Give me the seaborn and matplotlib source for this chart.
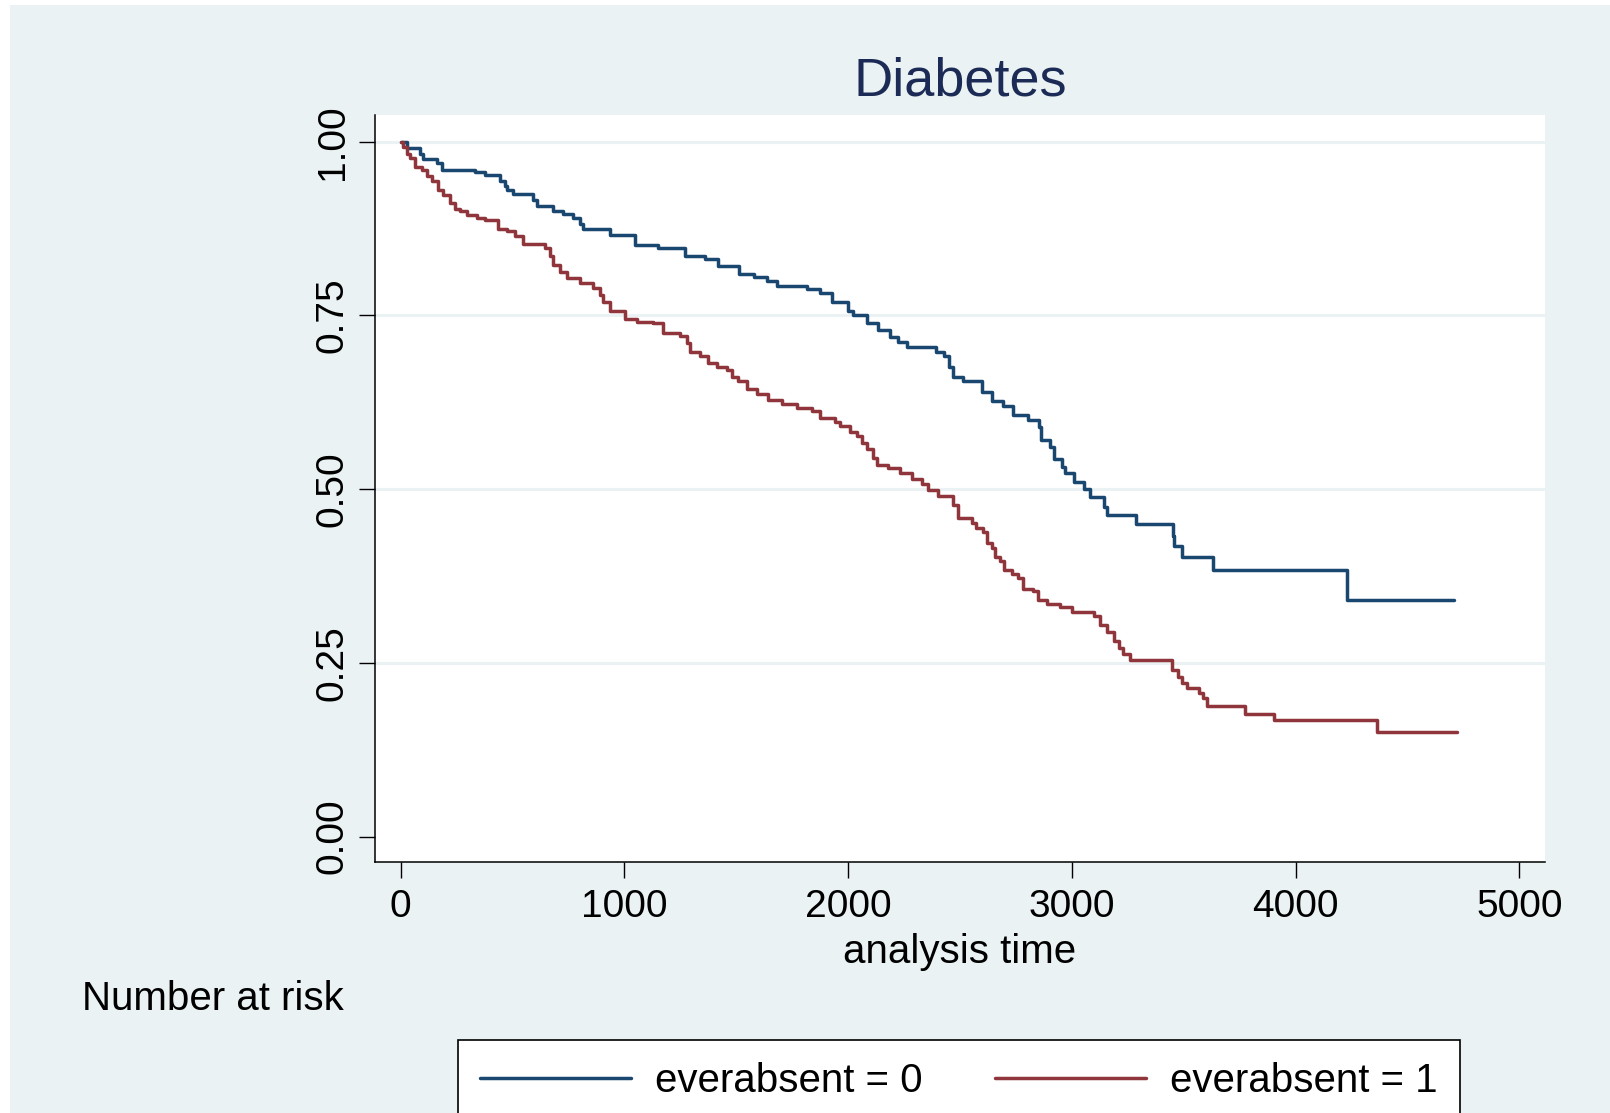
import matplotlib
matplotlib.use('Agg')
import matplotlib.pyplot as plt
import seaborn as sns
import pandas as pd
from matplotlib.patches import Rectangle

sns.set_style('white')
plt.rcParams['font.family'] = ['Liberation Sans', 'DejaVu Sans']
plt.rcParams['text.color'] = 'black'
plt.rcParams['axes.labelcolor'] = 'black'

# Kaplan-Meier survival estimates (time, survival after the step)
t0 = [0, 28, 87, 101, 162, 184, 333, 378, 445, 465, 474, 504, 593, 608, 683, 728, 772, 800, 817, 936,
      1048, 1152, 1271, 1360, 1420, 1513, 1580, 1636, 1681, 1815, 1874, 1926, 2001, 2023, 2083, 2135,
      2187, 2224, 2261, 2392, 2430, 2450, 2469, 2515, 2597, 2645, 2694, 2739, 2806, 2851, 2860, 2903,
      2920, 2955, 2970, 3010, 3055, 3082, 3142, 3157, 3287, 3453, 3456, 3490, 3632, 4231, 4707]
s0 = [1.0, 0.991, 0.983, 0.975, 0.970, 0.960, 0.956, 0.952, 0.944, 0.937, 0.931, 0.925, 0.916, 0.908,
      0.901, 0.896, 0.890, 0.882, 0.875, 0.866, 0.852, 0.847, 0.836, 0.831, 0.821, 0.810, 0.805, 0.799,
      0.793, 0.788, 0.782, 0.770, 0.757, 0.751, 0.739, 0.729, 0.719, 0.712, 0.705, 0.698, 0.691, 0.676,
      0.662, 0.655, 0.640, 0.627, 0.619, 0.607, 0.599, 0.590, 0.571, 0.561, 0.543, 0.532, 0.523, 0.511,
      0.500, 0.488, 0.475, 0.463, 0.450, 0.433, 0.418, 0.402, 0.383, 0.341, 0.341]

t1 = [0, 13, 28, 42, 65, 95, 117, 139, 169, 191, 221, 244, 266, 296, 340, 378, 437, 474, 512, 549,
      646, 668, 683, 713, 742, 802, 862, 891, 906, 936, 1003, 1055, 1130, 1174, 1249, 1279, 1294, 1338,
      1376, 1413, 1458, 1480, 1510, 1547, 1592, 1644, 1703, 1770, 1837, 1874, 1941, 1964, 2008, 2038,
      2061, 2083, 2113, 2128, 2180, 2232, 2284, 2329, 2359, 2403, 2470, 2492, 2552, 2570, 2604, 2619,
      2641, 2656, 2679, 2697, 2731, 2761, 2783, 2828, 2850, 2887, 2947, 3000, 3099, 3126, 3156, 3186,
      3210, 3230, 3260, 3446, 3476, 3491, 3513, 3566, 3588, 3603, 3774, 3905, 4365, 4723]
s1 = [1.0, 0.993, 0.983, 0.976, 0.964, 0.959, 0.951, 0.943, 0.931, 0.923, 0.912, 0.904, 0.901, 0.895,
      0.891, 0.888, 0.875, 0.871, 0.864, 0.853, 0.847, 0.835, 0.823, 0.813, 0.804, 0.797, 0.789, 0.780,
      0.770, 0.757, 0.745, 0.741, 0.739, 0.725, 0.720, 0.710, 0.698, 0.691, 0.681, 0.676, 0.672, 0.661,
      0.655, 0.644, 0.637, 0.629, 0.623, 0.617, 0.612, 0.603, 0.597, 0.591, 0.583, 0.576, 0.566, 0.558,
      0.545, 0.535, 0.530, 0.523, 0.514, 0.507, 0.499, 0.490, 0.477, 0.458, 0.452, 0.444, 0.439, 0.422,
      0.415, 0.403, 0.396, 0.384, 0.378, 0.372, 0.356, 0.353, 0.341, 0.335, 0.330, 0.323, 0.317, 0.305,
      0.294, 0.281, 0.272, 0.263, 0.254, 0.239, 0.230, 0.221, 0.214, 0.207, 0.199, 0.188, 0.177, 0.167,
      0.151, 0.151]

groups = ['everabsent = 0', 'everabsent = 1']
colors = ['#1A476F', '#90353B']
xticks = [0, 1000, 2000, 3000, 4000, 5000]
yticks = [0.0, 0.25, 0.5, 0.75, 1.0]
ytick_labels = ['0.00', '0.25', '0.50', '0.75', '1.00']
bg = '#EAF2F3'   # stata s2color background

df = pd.concat([pd.DataFrame({'time': t0, 'surv': s0, 'group': groups[0]}),
                pd.DataFrame({'time': t1, 'surv': s1, 'group': groups[1]})], ignore_index=True)

W, H = 1610, 1113
fig = plt.figure(figsize=(W / 100, H / 100), dpi=100, facecolor='white')
fig.patches.append(Rectangle((10 / W, 0), 1, 1 - 5 / H, transform=fig.transFigure,
                             facecolor=bg, edgecolor='none', zorder=-10))
ax = fig.add_axes([375 / W, 1 - 862 / H, 1170 / W, 747 / H])
ax.set_facecolor('white')

sns.lineplot(data=df, x='time', y='surv', hue='group', palette=colors, drawstyle='steps-post',
             estimator=None, lw=2.5, legend=False, ax=ax)

ax.set_xlim(-114, 5114)
ax.set_ylim(-0.0367, 1.0386)
ax.set_xticks(xticks)
ax.set_yticks(yticks)
ax.set_yticklabels(ytick_labels)
plt.setp(ax.get_yticklabels(), rotation=90, va='center')
ax.tick_params(bottom=True, left=True, direction='out', length=11.5, width=1.0,
               labelsize=28, colors='black')
ax.tick_params(axis='x', pad=8)
ax.tick_params(axis='y', pad=6)

ax.yaxis.grid(True, color=bg, lw=2.2)
ax.get_ygridlines()[0].set_visible(False)   # stata leaves the 0 line out
ax.set_axisbelow(True)
for side in ['top', 'right']:
    ax.spines[side].set_visible(False)
for side in ['left', 'bottom']:
    ax.spines[side].set_color('black')
    ax.spines[side].set_linewidth(1.1)

ax.set_xlabel('analysis time', fontsize=29, labelpad=5.5)
ax.set_ylabel('')
ax.set_title('Diabetes', fontsize=39, color='#1C2B55', pad=14)

fig.text(82 / W, 1 - 1010 / H, 'Number at risk', fontsize=29, va='baseline', ha='left')

leg = fig.legend(handles=ax.lines[:2], labels=groups, loc='center',
                 bbox_to_anchor=(959 / W, 1 - 1081 / H), ncol=2, fontsize=29,
                 frameon=True, fancybox=False, edgecolor='black', framealpha=1,
                 handlelength=3.75, handletextpad=0.6, columnspacing=1.8, borderpad=0.55)
leg.get_frame().set_linewidth(1.2)

fig.savefig('out.png', dpi=100)
